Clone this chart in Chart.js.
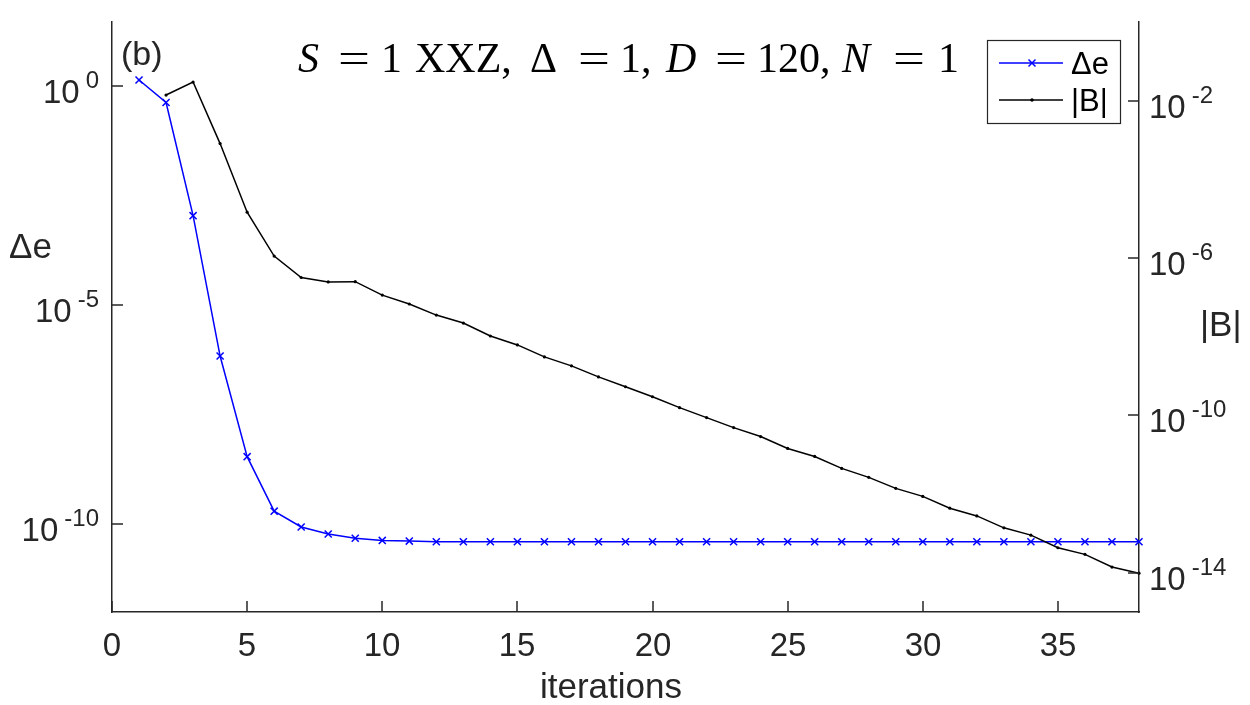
<!DOCTYPE html>
<html>
<head>
<meta charset="utf-8">
<script src="https://cdn.jsdelivr.net/npm/chart.js@4.4.1/dist/chart.umd.min.js"></script>
<style>
  html, body { margin: 0; padding: 0; background: #fff; }
  #wrap { width: 1250px; height: 705px; }
</style>
</head>
<body>
<div id="wrap"><canvas id="c" width="1250" height="705"></canvas></div>
<script>
"use strict";

// iterations (x) for each series
const iterDe = [1, 2, 3, 4, 5, 6, 7, 8, 9, 10, 11, 12, 13, 14, 15, 16, 17, 18, 19, 20,
  21, 22, 23, 24, 25, 26, 27, 28, 29, 30, 31, 32, 33, 34, 35, 36, 37, 38];
const iterB = [2, 3, 4, 5, 6, 7, 8, 9, 10, 11, 12, 13, 14, 15, 16, 17, 18, 19, 20,
  21, 22, 23, 24, 25, 26, 27, 28, 29, 30, 31, 32, 33, 34, 35, 36, 37, 38];

// Δe (left axis)
const deltaE = [1.37, 0.42, 1.1e-3, 6.9e-7, 3.5e-9, 2.0e-10, 8.7e-11, 6.0e-11, 4.8e-11, 4.3e-11,
  4.15e-11, 4.0e-11, 4.0e-11, 4.0e-11, 4.0e-11, 4.0e-11, 4.0e-11, 4.0e-11, 4.0e-11, 4.0e-11,
  4.0e-11, 4.0e-11, 4.0e-11, 4.0e-11, 4.0e-11, 4.0e-11, 4.0e-11, 4.0e-11, 4.0e-11, 4.0e-11,
  4.0e-11, 4.0e-11, 4.0e-11, 4.0e-11, 4.0e-11, 4.0e-11, 4.0e-11, 4.0e-11];

// |B| (right axis)
const normB = [1.39e-2, 2.97e-2, 8.1e-4, 1.46e-5, 1.12e-6, 3.19e-7, 2.47e-7, 2.5e-7, 1.14e-7, 6.76e-8,
  3.54e-8, 2.22e-8, 1.04e-8, 6.17e-9, 3.06e-9, 1.81e-9, 9.5e-10, 5.33e-10, 2.97e-10, 1.57e-10,
  8.75e-11, 4.88e-11, 2.89e-11, 1.44e-11, 9.0e-12, 4.47e-12, 2.65e-12, 1.39e-12, 8.7e-13, 4.35e-13,
  2.77e-13, 1.38e-13, 9.0e-14, 4.3e-14, 2.92e-14, 1.39e-14, 9.7e-15];

// tick values
const xTicks = [0, 5, 10, 15, 20, 25, 30, 35];
const leftTicks = [1e0, 1e-5, 1e-10];
const rightTicks = [1e-2, 1e-6, 1e-10, 1e-14];

const AXIS = "#262626";
const SANS = '"Liberation Sans", Arial, Helvetica, sans-serif';
const SERIF = '"Liberation Serif", "Times New Roman", serif';

function seg(ctx, x1, y1, x2, y2) {
  ctx.beginPath();
  ctx.moveTo(x1, y1);
  ctx.lineTo(x2, y2);
  ctx.stroke();
}

// "10" followed by a raised exponent, like matlab tex labels
function drawPow(ctx, value, x, y, align) {
  const exp = String(Math.round(Math.log10(value)));
  ctx.font = "33px " + SANS;
  const wBase = ctx.measureText("10").width;
  ctx.font = "24px " + SANS;
  const wExp = ctx.measureText(exp).width;
  const gap = 6;
  const left = align === "right" ? x - (wBase + gap + wExp) : x;
  ctx.textAlign = "left";
  ctx.textBaseline = "alphabetic";
  ctx.font = "33px " + SANS;
  ctx.fillText("10", left, y + 17);
  ctx.font = "24px " + SANS;
  ctx.fillText(exp, left + wBase + gap, y + 2);
}

const axisDeco = {
  id: "axisDeco",
  afterDraw(chart) {
    const ctx = chart.ctx;
    const area = chart.chartArea;
    const { x, y, y1 } = chart.scales;
    const TL = 11;
    ctx.save();
    ctx.strokeStyle = AXIS;
    ctx.fillStyle = AXIS;
    ctx.lineWidth = 1.5;

    // x ticks point up into the plot
    x.ticks.forEach((t) => {
      const px = Math.round(x.getPixelForValue(t.value));
      seg(ctx, px, area.bottom, px, area.bottom - TL);
      ctx.font = "33px " + SANS;
      ctx.textAlign = "center";
      ctx.textBaseline = "alphabetic";
      ctx.fillText(String(t.value), px, 656);
    });

    y.ticks.forEach((t) => {
      const py = Math.round(y.getPixelForValue(t.value));
      seg(ctx, area.left, py, area.left + TL, py);
      drawPow(ctx, t.value, 99, py, "right");
    });

    y1.ticks.forEach((t) => {
      const py = Math.round(y1.getPixelForValue(t.value));
      seg(ctx, area.right, py, area.right - TL, py);
      drawPow(ctx, t.value, 1149, py, "left");
    });

    // axis titles
    ctx.font = "35px " + SANS;
    ctx.textBaseline = "alphabetic";
    ctx.textAlign = "center";
    ctx.fillText("iterations", 611, 698);
    ctx.textAlign = "left";
    ctx.fillText("\u0394e", 9, 258);
    ctx.fillText("|B|", 1200, 336);

    // panel tag
    ctx.font = "34px " + SANS;
    ctx.fillText("(b)", 121, 65);

    // title, typeset piece by piece (math italic for the symbols)
    const parts = [
      ["S", true, 298], ["=", false, 338], ["1", false, 381], ["XXZ,", false, 415],
      ["\u0394", false, 530], ["=", false, 578], ["1,", false, 620],
      ["D", true, 666], ["=", false, 715], ["120,", false, 757],
      ["N", true, 842], ["=", false, 893], ["1", false, 938],
    ];
    ctx.fillStyle = "#000";
    parts.forEach(([txt, it, px]) => {
      ctx.font = (it ? "italic " : "") + "42px " + SERIF;
      if (txt === "=") {
        ctx.save();
        ctx.translate(px, 72);
        ctx.scale(1.35, 1);
        ctx.fillText(txt, 0, 0);
        ctx.restore();
      } else {
        ctx.fillText(txt, px, 72);
      }
    });
    ctx.restore();
  },
};

const legendBox = {
  id: "legendBox",
  afterDraw(chart) {
    const ctx = chart.ctx;
    ctx.save();
    ctx.fillStyle = "#fff";
    ctx.fillRect(987.5, 40.5, 133, 83);
    ctx.strokeStyle = AXIS;
    ctx.lineWidth = 1.2;
    ctx.strokeRect(987.5, 40.5, 133, 83);
    const rows = [63, 100];
    chart.data.datasets.forEach((ds, i) => {
      const ly = rows[i];
      ctx.strokeStyle = ds.borderColor;
      ctx.lineWidth = ds.borderWidth;
      seg(ctx, 999, ly, 1063, ly);
      if (ds.pointStyle === "crossRot") {
        seg(ctx, 1028.5, ly - 3.5, 1035.5, ly + 3.5);
        seg(ctx, 1028.5, ly + 3.5, 1035.5, ly - 3.5);
      } else {
        ctx.fillStyle = ds.pointBackgroundColor;
        ctx.beginPath();
        ctx.arc(1032, ly, 1.8, 0, Math.PI * 2);
        ctx.fill();
      }
      ctx.fillStyle = "#000";
      ctx.font = "31px " + SANS;
      ctx.textAlign = "left";
      ctx.textBaseline = "alphabetic";
      ctx.fillText(ds.label, 1071, ly + 11);
    });
    ctx.restore();
  },
};

const fixTicks = (vals) => (scale) => {
  scale.ticks = vals.map((v) => ({ value: v }));
};

new Chart(document.getElementById("c"), {
  type: "line",
  data: {
    datasets: [
      {
        label: "\u0394e",
        data: iterDe.map((it, i) => ({ x: it, y: deltaE[i] })),
        yAxisID: "y",
        borderColor: "#0000ff",
        backgroundColor: "#0000ff",
        borderWidth: 1.5,
        pointStyle: "crossRot",
        pointRadius: 5,
        pointBorderWidth: 1.5,
        pointBorderColor: "#0000ff",
        tension: 0,
        clip: false,
        order: 1,
      },
      {
        label: "|B|",
        data: iterB.map((it, i) => ({ x: it, y: normB[i] })),
        yAxisID: "y1",
        borderColor: "#000000",
        backgroundColor: "#000000",
        borderWidth: 1.5,
        pointStyle: "circle",
        pointRadius: 1.6,
        pointBorderWidth: 0,
        pointBackgroundColor: "#000000",
        tension: 0,
        clip: false,
        order: 0,
      },
    ],
  },
  options: {
    responsive: false,
    animation: false,
    devicePixelRatio: 1,
    layout: { padding: { top: 22, left: 0, right: 0, bottom: 0 } },
    plugins: {
      legend: { display: false },
      title: { display: false },
      tooltip: { enabled: false },
    },
    scales: {
      x: {
        type: "linear",
        min: 0,
        max: 38,
        grid: { display: false },
        border: { display: true, color: AXIS, width: 1.5 },
        ticks: { display: false },
        afterBuildTicks: fixTicks(xTicks),
        afterFit: (s) => { s.height = 93; },
      },
      y: {
        type: "logarithmic",
        position: "left",
        min: 1e-12,
        max: 28.8,
        grid: { display: false },
        border: { display: true, color: AXIS, width: 1.5 },
        ticks: { display: false },
        afterBuildTicks: fixTicks(leftTicks),
        afterFit: (s) => { s.width = 112; },
      },
      y1: {
        type: "logarithmic",
        position: "right",
        min: 1e-15,
        max: 1,
        grid: { display: false },
        border: { display: true, color: AXIS, width: 1.5 },
        ticks: { display: false },
        afterBuildTicks: fixTicks(rightTicks),
        afterFit: (s) => { s.width = 111; },
      },
    },
  },
  plugins: [axisDeco, legendBox],
});
</script>
</body>
</html>
